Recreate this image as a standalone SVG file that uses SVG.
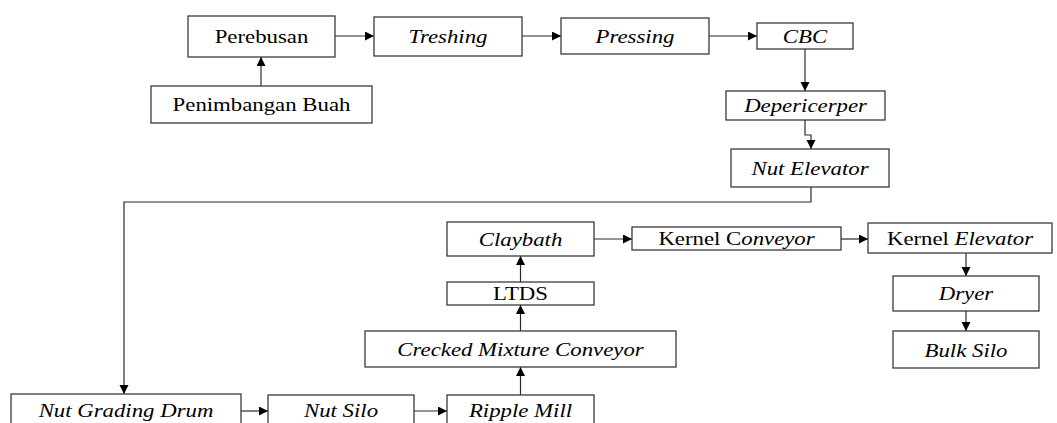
<svg xmlns="http://www.w3.org/2000/svg" width="1057" height="423" viewBox="0 0 1057 423">
<style>
.box{fill:#fff;stroke:#3a3a3a;stroke-width:1.3}
.t{font-family:"Liberation Serif","Times New Roman",serif;font-size:19px;fill:#000;text-anchor:middle}
.i{font-style:italic}
.c{fill:none;stroke:#2a2a2a;stroke-width:1.2}
</style>
<defs>
<marker id="ah" markerUnits="userSpaceOnUse" markerWidth="10" markerHeight="10" refX="9" refY="4.5" orient="auto">
<path d="M0,0 L9,4.5 L0,9 z" fill="#000"/>
</marker>
</defs>
<g id="connectors">
<path class="c" d="M261,86 V57" marker-end="url(#ah)"/>
<path class="c" d="M335,36 H374" marker-end="url(#ah)"/>
<path class="c" d="M522,36 H561" marker-end="url(#ah)"/>
<path class="c" d="M709,36 H757" marker-end="url(#ah)"/>
<path class="c" d="M805,49 V91" marker-end="url(#ah)"/>
<path class="c" d="M805,120 V135 H811 V149" marker-end="url(#ah)"/>
<path class="c" d="M811,187 V202 H124 V394" marker-end="url(#ah)"/>
<path class="c" d="M241,411 H268" marker-end="url(#ah)"/>
<path class="c" d="M414,411 H447" marker-end="url(#ah)"/>
<path class="c" d="M520.5,395 V367" marker-end="url(#ah)"/>
<path class="c" d="M520.5,331 V305" marker-end="url(#ah)"/>
<path class="c" d="M520.5,282 V256" marker-end="url(#ah)"/>
<path class="c" d="M594,239 H632" marker-end="url(#ah)"/>
<path class="c" d="M841,239 H868" marker-end="url(#ah)"/>
<path class="c" d="M966,253 V276" marker-end="url(#ah)"/>
<path class="c" d="M966,311 V331" marker-end="url(#ah)"/>
</g>
<g id="perebusan"><rect class="box" x="188" y="16" width="147" height="41"/><text class="t" transform="matrix(1.2 0 0 1 261.5 43)">Perebusan</text></g>
<g id="treshing"><rect class="box" x="374" y="17" width="148" height="39"/><text class="t i" transform="matrix(1.2 0 0 1 448 43)">Treshing</text></g>
<g id="pressing"><rect class="box" x="561" y="18" width="148" height="36"/><text class="t i" transform="matrix(1.2 0 0 1 635 43)">Pressing</text></g>
<g id="cbc"><rect class="box" x="757" y="23" width="96" height="26"/><text class="t i" transform="matrix(1.2 0 0 1 805 43)">CBC</text></g>
<g id="penimbangan"><rect class="box" x="151" y="86" width="221" height="37"/><text class="t" transform="matrix(1.2 0 0 1 261.5 111)">Penimbangan Buah</text></g>
<g id="depericerper"><rect class="box" x="726" y="91" width="159" height="29"/><text class="t i" transform="matrix(1.2 0 0 1 805.5 112)">Depericerper</text></g>
<g id="nut-elevator"><rect class="box" x="731" y="149" width="158" height="38"/><text class="t i" transform="matrix(1.2 0 0 1 810 175)">Nut Elevator</text></g>
<g id="nut-grading-drum"><rect class="box" x="11" y="394" width="230" height="40"/><text class="t i" transform="matrix(1.2 0 0 1 126 417)">Nut Grading Drum</text></g>
<g id="nut-silo"><rect class="box" x="268" y="395" width="146" height="40"/><text class="t i" transform="matrix(1.2 0 0 1 341 417)">Nut Silo</text></g>
<g id="ripple-mill"><rect class="box" x="447" y="395" width="147" height="40"/><text class="t i" transform="matrix(1.2 0 0 1 520.5 417)">Ripple Mill</text></g>
<g id="crecked"><rect class="box" x="365" y="331" width="311" height="36"/><text class="t i" transform="matrix(1.2 0 0 1 520.5 356)">Crecked Mixture Conveyor</text></g>
<g id="ltds"><rect class="box" x="447" y="282" width="147" height="23"/><text class="t" transform="matrix(1.2 0 0 1 520.5 300)">LTDS</text></g>
<g id="claybath"><rect class="box" x="447" y="222" width="147" height="34"/><text class="t i" transform="matrix(1.2 0 0 1 520.5 246)">Claybath</text></g>
<g id="kernel-conveyor"><rect class="box" x="632" y="227" width="209" height="23"/><text class="t" transform="matrix(1.2 0 0 1 736.5 245)">Kernel C<tspan class="i">onveyor</tspan></text></g>
<g id="kernel-elevator"><rect class="box" x="868" y="223" width="184" height="30"/><text class="t" transform="matrix(1.2 0 0 1 960 245)">Kernel <tspan class="i">Elevator</tspan></text></g>
<g id="dryer"><rect class="box" x="893" y="276" width="146" height="35"/><text class="t i" transform="matrix(1.2 0 0 1 966 300)">Dryer</text></g>
<g id="bulk-silo"><rect class="box" x="893" y="331" width="146" height="37"/><text class="t i" transform="matrix(1.2 0 0 1 966 357)">Bulk Silo</text></g>
</svg>
